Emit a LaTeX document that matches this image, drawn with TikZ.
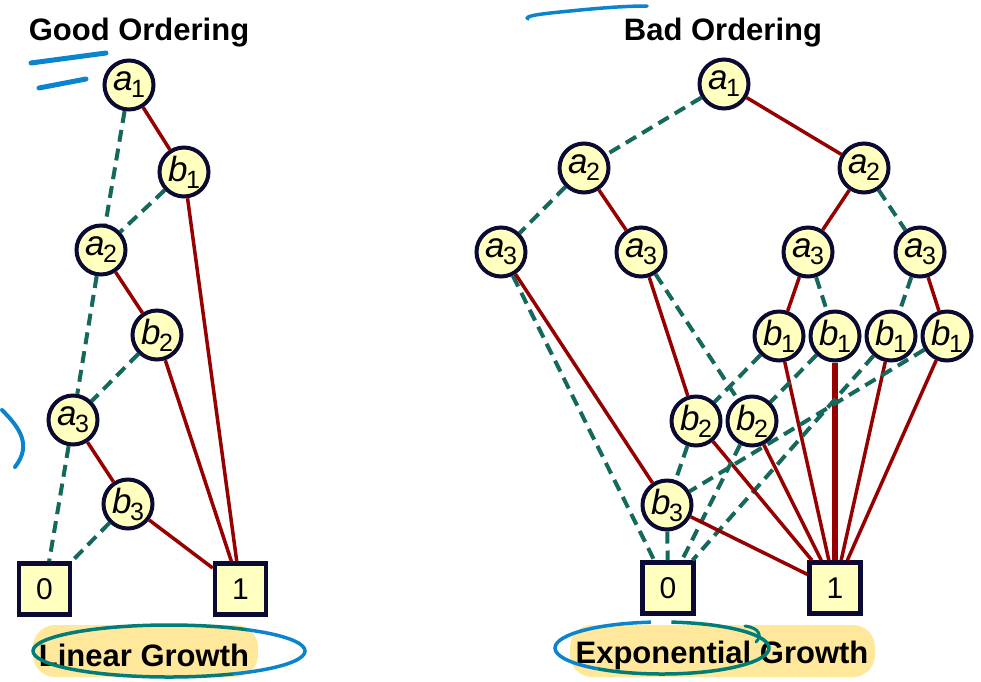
\documentclass[tikz,border=0pt]{standalone}
\usepackage{fontspec}
\setmainfont{Liberation Sans}
\definecolor{nodefill}{RGB}{255,255,192}
\definecolor{nodeline}{RGB}{10,10,50}
\definecolor{hired}{RGB}{150,0,0}
\definecolor{logreen}{RGB}{20,105,90}
\definecolor{hilite}{RGB}{255,232,155}
\definecolor{penblue}{RGB}{10,132,204}
\definecolor{penteal}{RGB}{0,125,120}
\newcommand{\lbl}[2]{{\fontsize{35}{35}\selectfont\itshape #1}\kern-1.5pt\raisebox{-7pt}{\fontsize{25}{25}\selectfont #2}}
\tikzset{
  vnode/.style={circle, draw=nodeline, fill=nodefill, line width=4pt, minimum size=49pt, inner sep=0pt},
  term/.style={rectangle, draw=nodeline, fill=nodefill, line width=4.5pt, minimum size=51pt, inner sep=0pt, font=\fontsize{30}{30}\selectfont},
  hi/.style={draw=hired, line width=3.5pt},
  lo/.style={draw=logreen, line width=4pt, dash pattern=on 12pt off 7pt},
  ttl/.style={font=\fontsize{31}{31}\selectfont\bfseries, inner sep=0pt},
  hl/.style={fill=hilite, rounded corners=22pt},
  pen/.style={line width=5pt, line cap=round, draw=penblue},
}
\begin{document}
\begin{tikzpicture}[x=1pt, y=-1pt]
\useasboundingbox (0,0) rectangle (981,681);
% highlights
\fill[hl] (33,625) rectangle (258,677);
\fill[hl] (570,625) rectangle (875,677);
% titles
\node[ttl] (tgood) at (139,33) {Good Ordering};
\node[ttl] (tbad) at (723,33) {Bad Ordering};
\node[ttl] (tlin) at (144,655) {Linear Growth};
\node[ttl] (texp) at (722,655) {Exponential Growth};
% ---------- good ordering ----------
\node[vnode] (la1) at (129,85) {\lbl{a}{1}};
\node[vnode] (lb1) at (184,172) {\lbl{b}{1}};
\node[vnode] (la2) at (101,250) {\lbl{a}{2}};
\node[vnode] (lb2) at (157,335) {\lbl{b}{2}};
\node[vnode] (la3) at (73,420) {\lbl{a}{3}};
\node[vnode] (lb3) at (128,504) {\lbl{b}{3}};
\node[term] (lzero) at (44.5,589) {0};
\node[term] (lone) at (240.5,589) {1};
\draw[hi] (la1) -- (lb1);
\draw[lo] (la1) -- (la2);
\draw[lo] (lb1) -- (la2);
\draw[hi] (lb1) -- (lone);
\draw[hi] (la2) -- (lb2);
\draw[lo] (la2) -- (la3);
\draw[lo] (lb2) -- (la3);
\draw[hi] (lb2) -- (lone);
\draw[hi] (la3) -- (lb3);
\draw[lo] (la3) -- (lzero);
\draw[lo] (lb3) -- (lzero);
\draw[hi] (lb3) -- (lone);
% ---------- bad ordering ----------
\node[vnode] (ra1) at (724,84) {\lbl{a}{1}};
\node[vnode] (ra2l) at (584,168) {\lbl{a}{2}};
\node[vnode] (ra2r) at (864,168) {\lbl{a}{2}};
\node[vnode] (ra3a) at (501,252) {\lbl{a}{3}};
\node[vnode] (ra3b) at (641,252) {\lbl{a}{3}};
\node[vnode] (ra3c) at (808,252) {\lbl{a}{3}};
\node[vnode] (ra3d) at (920,252) {\lbl{a}{3}};
\node[vnode] (rb1a) at (779,336) {\lbl{b}{1}};
\node[vnode] (rb1b) at (835,336) {\lbl{b}{1}};
\node[vnode] (rb1c) at (891,336) {\lbl{b}{1}};
\node[vnode] (rb1d) at (947,336) {\lbl{b}{1}};
\node[vnode] (rb2a) at (696,421) {\lbl{b}{2}};
\node[vnode] (rb2b) at (752,421) {\lbl{b}{2}};
\node[vnode] (rb3) at (667,505) {\lbl{b}{3}};
\node[term] (rzero) at (668,588) {0};
\node[term] (rone) at (835,588) {1};
\draw[lo] (ra1) -- (ra2l);
\draw[hi] (ra1) -- (ra2r);
\draw[lo] (ra2l) -- (ra3a);
\draw[hi] (ra2l) -- (ra3b);
\draw[hi] (ra2r) -- (ra3c);
\draw[lo] (ra2r) -- (ra3d);
\draw[lo] (ra3a) -- (rzero);
\draw[hi] (ra3a) -- (rb3);
\draw[lo] (ra3b) -- (rb2b);
\draw[hi] (ra3b) -- (rb2a);
\draw[hi] (ra3c) -- (rb1a);
\draw[lo] (ra3c) -- (rb1b);
\draw[lo] (ra3d) -- (rb1c);
\draw[hi] (ra3d) -- (rb1d);
\draw[lo] (rb1a) -- (rb2a);
\draw[hi] (rb1a) -- (rone);
\draw[lo] (rb1b) -- (rb2b);
\draw[hi, line width=5.5pt] (rb1b) -- (rone);
\draw[lo] (rb1c) -- (rzero);
\draw[hi] (rb1c) -- (rone);
\draw[lo] (rb1d) -- (rb3);
\draw[hi] (rb1d) -- (rone);
\draw[lo] (rb2a) -- (rb3);
\draw[hi] (rb2a) -- (rone);
\draw[lo] (rb2b) -- (rzero);
\draw[hi] (rb2b) -- (rone);
\draw[lo] (rb3) -- (rzero);
\draw[hi] (rb3) -- (rone);
% ---------- pen annotations ----------
\draw[pen] (31,63) -- (106,53);
\draw[pen] (39,88) -- (86,79);
\draw[pen, line width=3.5pt] (528,19) .. controls (524,16) and (540,14) .. (560,12) .. controls (590,9) and (620,6) .. (647,6);
\draw[pen, line width=4pt] (2,410) .. controls (20,428) and (32,445) .. (15,467);
% left ellipse
\draw[line width=3.5pt, draw=penblue] (169,651) ++(-62:136pt and 26pt) arc[start angle=-62, end angle=55, x radius=136pt, y radius=26pt];
\draw[line width=3.5pt, draw=penteal] (169,651) ++(55:136pt and 26pt) arc[start angle=55, end angle=298, x radius=136pt, y radius=26pt];
% right ellipse
\draw[line width=3.5pt, draw=penblue] (662,648) ++(96:107pt and 26pt) arc[start angle=96, end angle=233, x radius=107pt, y radius=26pt];
\draw[line width=3.5pt, draw=penteal] (662,648) ++(233:107pt and 26pt) arc[start angle=233, end angle=445, x radius=107pt, y radius=26pt];
\draw[line width=3pt, draw=penteal, line cap=round] (745,626) .. controls (760,628) and (762,636) .. (756,642);
\end{tikzpicture}
\end{document}
